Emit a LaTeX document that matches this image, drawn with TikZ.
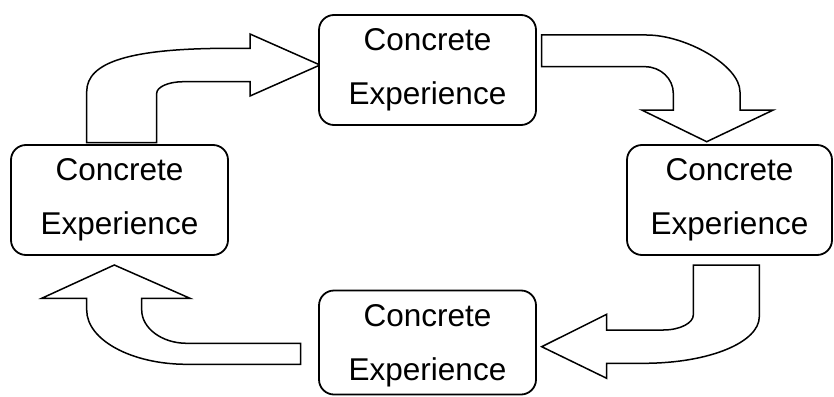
\documentclass[tikz,border=0pt]{standalone}
\usepackage{fontspec}
\setmainfont{Liberation Sans}
\begin{document}
\begin{tikzpicture}[x=1pt,y=-1pt,
  box/.style={draw=black, line width=1.8pt, rounded corners=15pt, fill=white,
    align=center, inner sep=0pt, font=\fontsize{31.5}{54}\selectfont},
  boxtext/.style={align=center, inner sep=0pt, font=\fontsize{31.5}{54}\selectfont},
  blockarrow/.style={draw=black, line width=1.5pt, fill=white, line join=miter}]
\useasboundingbox (0,0) rectangle (834,396);
% block arrows
\draw[blockarrow] (86.7,142.7) -- (86.7,91.7) .. controls (86.7,62) and (130,48.3) .. (230,48.3)
  -- (250,48.3) -- (250,34) -- (320,65) -- (250,96) -- (250,81.7) -- (183.3,81.7)
  .. controls (168.6,81.7) and (156.7,86.9) .. (156.7,93.3) -- (156.7,142.7) -- cycle;
\draw[blockarrow] (541.7,35) -- (646.7,35) .. controls (685,35) and (740,65) .. (740,92)
  -- (740,110) -- (773.3,110) -- (706.7,141.7) -- (641.7,110) -- (673.3,110) -- (673.3,93.3)
  .. controls (673.3,78.7) and (660.6,66.7) .. (645,66.7) -- (541.7,66.7) -- cycle;
\draw[blockarrow] (693.3,265) -- (759.3,265) -- (759.3,316.7)
  .. controls (759.3,342) and (710,363.3) .. (643.3,363.3) -- (606.7,363.3) -- (606.7,378.3)
  -- (541.7,346.7) -- (606.7,314.3) -- (606.7,330) -- (663.3,330)
  .. controls (680,330) and (693.3,323) .. (693.3,315) -- cycle;
\draw[blockarrow] (300.7,343.3) -- (300.7,364.3) -- (186.7,364.3)
  .. controls (131.7,364.3) and (86.7,340) .. (86.7,310) -- (86.7,298.3) -- (41.7,298.3)
  -- (114.3,265) -- (190,298.3) -- (141.7,298.3) -- (141.7,310)
  .. controls (141.7,328) and (161.7,343.3) .. (186.7,343.3) -- cycle;
% boxes
\node[box, minimum width=217pt, minimum height=110pt] (top) at (427.5,70) {Concrete\\Experience};
\node[box, minimum width=217pt, minimum height=110pt] (left) at (119.5,200) {Concrete\\Experience};
\node[box, minimum width=205pt, minimum height=110pt] (right) at (729.5,200) {Concrete\\Experience};
\node[box, minimum width=217pt, minimum height=104pt] (bottom) at (427.5,342.5) {};
\node[boxtext] (bottomtext) at (427.5,345.5) {Concrete\\Experience};
\end{tikzpicture}
\end{document}
